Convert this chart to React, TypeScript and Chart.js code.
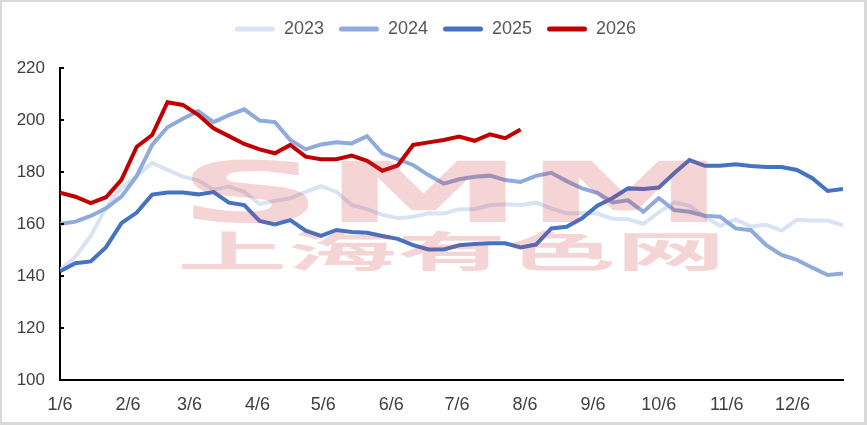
import { useEffect, useRef } from "react";
import { Chart, registerables } from "chart.js";
import type { Plugin } from "chart.js";

Chart.register(...registerables);

// weekly prices, one point every 7 days starting 1/6
const years = ["2023", "2024", "2025", "2026"];
const yearColors = ["#dae3f3", "#8faadc", "#4472c4", "#c00000"];

const values2023 = [
  142.3, 147.4, 155.4, 166.3, 174.0, 178.5, 183.5, 180.8, 178.2, 176.8,
  173.2, 174.4, 172.4, 167.7, 168.9, 169.9, 172.4, 174.6, 172.4, 167.3,
  165.7, 163.5, 162.2, 162.8, 164.1, 164.0, 165.7, 165.7, 167.3, 167.6,
  167.3, 168.2, 166.0, 164.1, 164.2, 164.0, 162.0, 161.8, 160.1, 164.5,
  168.3, 167.0, 162.7, 159.3, 161.8, 159.0, 159.7, 157.5, 161.6, 161.3,
  161.3, 159.5,
];
const values2024 = [
  160.0, 160.9, 163.1, 166.0, 170.5, 178.5, 190.4, 197.2, 200.5, 203.4,
  199.2, 201.9, 204.1, 199.8, 199.2, 192.3, 188.7, 190.6, 191.4, 191.0,
  193.8, 187.2, 184.9, 182.7, 178.8, 175.5, 177.2, 178.2, 178.6, 176.9,
  176.2, 178.5, 179.7, 176.5, 173.7, 172.0, 168.3, 169.1, 164.7, 170.0,
  165.4, 164.7, 163.2, 162.8, 158.3, 157.6, 151.9, 148.1, 146.2, 143.2,
  140.4, 141.0,
];
const values2025 = [
  141.8, 144.9, 145.6, 151.1, 160.3, 164.4, 171.3, 172.1, 172.1, 171.4,
  172.3, 168.2, 167.3, 161.2, 159.8, 161.5, 157.4, 155.4, 157.7, 156.9,
  156.6, 155.4, 154.3, 151.9, 150.2, 150.2, 151.8, 152.3, 152.6, 152.6,
  151.0, 152.1, 158.3, 158.9, 162.2, 167.0, 170.0, 173.7, 173.5, 174.0,
  179.5, 184.6, 182.4, 182.4, 183.0, 182.3, 181.9, 181.9, 180.8, 177.6,
  172.7, 173.5,
];
const values2026 = [
  172.0, 170.5, 168.0, 170.3, 177.0, 189.7, 194.2, 206.8, 205.8, 202.0,
  196.8, 193.8, 190.8, 188.7, 187.2, 190.4, 185.9, 184.9, 184.9, 186.3,
  184.3, 180.5, 182.5, 190.4, 191.4, 192.3, 193.6, 192.0, 194.5, 193.0,
  196.3,
];
const seriesValues = [values2023, values2024, values2025, values2026];

// month ticks: days after 1/6
const monthTickDays = [0, 31, 59, 90, 120, 151, 181, 212, 243, 273, 304, 334];
const monthTickLabels = [
  "1/6", "2/6", "3/6", "4/6", "5/6", "6/6",
  "7/6", "8/6", "9/6", "10/6", "11/6", "12/6",
];
const yMin = 100;
const yMax = 220;
const yStep = 20;

// Excel style ticks that point into the plot
const innerTicks: Plugin<"line"> = {
  id: "innerTicks",
  afterDraw(chart) {
    const { ctx, chartArea, scales } = chart;
    const y = scales.y;
    ctx.save();
    ctx.strokeStyle = "#000";
    ctx.lineWidth = 2;
    y.ticks.forEach((t) => {
      const py = Math.round(y.getPixelForValue(t.value));
      ctx.beginPath();
      ctx.moveTo(chartArea.left - 1, py);
      ctx.lineTo(chartArea.left + 4, py);
      ctx.stroke();
    });
    ctx.restore();
  },
};

// leave a gap between the legend and the plot, nudge legend right
const legendGap: Plugin<"line"> = {
  id: "legendGap",
  beforeInit(chart) {
    const legend = chart.legend as any;
    if (!legend) return;
    const fit = legend.fit;
    legend.fit = function () {
      fit.call(this);
      this.height = 63;
    };
  },
  afterLayout(chart) {
    const legend = chart.legend as any;
    if (!legend) return;
    legend.left += 13;
    legend.right += 13;
  },
};

const watermark: Plugin<"line"> = {
  id: "watermark",
  afterDatasetsDraw(chart) {
    const { ctx, chartArea } = chart;
    const w = chartArea.right - chartArea.left;
    const h = chartArea.bottom - chartArea.top;
    const left = chartArea.left + w * 0.15;
    const width = w * 0.7;
    ctx.save();
    ctx.fillStyle = "rgba(210, 60, 70, 0.22)";
    ctx.textBaseline = "alphabetic";
    ctx.font = "bold 84px 'DejaVu Sans'";
    const sw = ctx.measureText("SMM").width;
    ctx.save();
    ctx.translate(left, chartArea.top + h * 0.494);
    ctx.scale(width / sw, 1);
    ctx.fillText("SMM", 0, 0);
    ctx.restore();
    ctx.font = "bold 42px 'Noto Sans CJK SC'";
    ctx.textBaseline = "middle";
    const cw = ctx.measureText("上海有色网").width;
    ctx.translate(left, chartArea.top + h * 0.587);
    ctx.scale(width / cw, 1);
    ctx.fillText("上海有色网", 0, 0);
    ctx.restore();
  },
};

export default function App() {
  const canvasRef = useRef<HTMLCanvasElement>(null);
  const chartRef = useRef<Chart | null>(null);

  useEffect(() => {
    if (!canvasRef.current) return;
    if (chartRef.current) chartRef.current.destroy();

    chartRef.current = new Chart(canvasRef.current, {
      type: "line",
      data: {
        datasets: years.map((year, k) => ({
          label: year,
          data: seriesValues[k].map((v, i) => ({ x: i * 7, y: v })),
          borderColor: yearColors[k],
          backgroundColor: yearColors[k],
          borderWidth: 4,
          pointRadius: 0,
          tension: 0,
          order: years.length - k,
        })),
      },
      options: {
        animation: false,
        responsive: true,
        maintainAspectRatio: false,
        layout: { padding: { left: 0, right: 21, top: 3, bottom: 0 } },
        plugins: {
          tooltip: { enabled: false },
          legend: {
            position: "top",
            labels: {
              boxWidth: 40,
              boxHeight: 5,
              useBorderRadius: true,
              borderRadius: 2.5,
              padding: 15,
              color: "#595959",
              font: { family: "'Liberation Sans'", size: 18 },
              sort: (a, b) => (a.datasetIndex ?? 0) - (b.datasetIndex ?? 0),
              generateLabels: (chart) =>
                Chart.defaults.plugins.legend.labels
                  .generateLabels(chart)
                  .map((item) => ({ ...item, lineWidth: 0 })),
            },
          },
        },
        scales: {
          x: {
            type: "linear",
            min: 0,
            max: 357,
            afterBuildTicks: (scale) => {
              scale.ticks = monthTickDays.map((d) => ({ value: d }));
            },
            afterFit: (scale) => {
              scale.height = 42;
            },
            grid: { display: false, drawTicks: false },
            border: { color: "#000", width: 2 },
            ticks: {
              autoSkip: false,
              maxRotation: 0,
              padding: 14,
              color: "#404040",
              font: { family: "'Liberation Sans'", size: 18 },
              callback: (_v, i) => monthTickLabels[i],
            },
          },
          y: {
            min: yMin,
            max: yMax,
            afterFit: (scale) => {
              scale.width = 58;
            },
            grid: { display: false, drawTicks: false },
            border: { color: "#000", width: 2 },
            ticks: {
              stepSize: yStep,
              padding: 15,
              color: "#404040",
              font: { family: "'Liberation Sans'", size: 17 },
            },
          },
        },
      },
      plugins: [legendGap, innerTicks, watermark],
    });

    return () => {
      if (chartRef.current) {
        chartRef.current.destroy();
        chartRef.current = null;
      }
    };
  }, []);

  return (
    <div
      style={{
        position: "absolute",
        left: 0,
        top: 0,
        width: 867,
        height: 425,
        boxSizing: "border-box",
        border: "2px solid #d9d9d9",
        borderRightWidth: 3,
        borderBottomWidth: 3,
        background: "#fff",
      }}
    >
      <div style={{ position: "relative", width: 862, height: 420 }}>
        <canvas ref={canvasRef} />
      </div>
    </div>
  );
}
